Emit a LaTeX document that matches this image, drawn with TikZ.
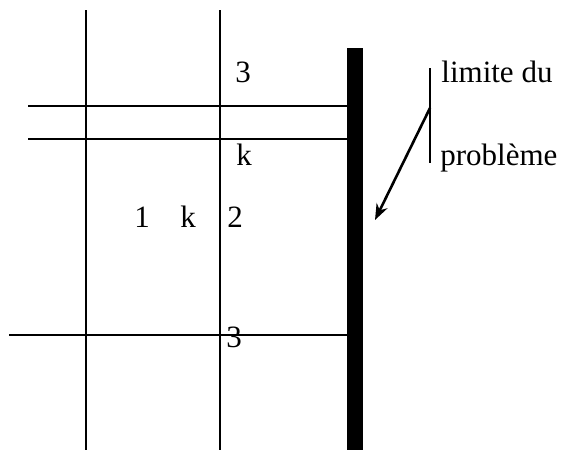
\documentclass[tikz,border=0pt]{standalone}
\usepackage{fontspec}
\setmainfont{Liberation Serif}
\usetikzlibrary{arrows.meta,positioning}

\begin{document}
\begin{tikzpicture}[
    x=0.5pt, y=-0.5pt,
    grid/.style={line width=1.4pt, black},
    lbl/.style={anchor=base west, inner sep=0pt, font=\fontsize{15.5}{18}\selectfont},
    arr/.style={-{Stealth[length=8pt,width=6pt]}, line width=1.3pt}
]
    \useasboundingbox (0,0) rectangle (561,450);
    % mesh lines
    \draw[grid] (86,10) -- (86,450);
    \draw[grid] (220,10) -- (220,450);
    \draw[grid] (28,106) -- (347,106);
    \draw[grid] (28,139) -- (347,139);
    \draw[grid] (9,335) -- (347,335);
    % boundary
    \fill[black] (347,48) rectangle (363,450);
    % indices
    \node[lbl] (topthree) at (235,82) {3};
    \node[lbl] (topk) at (236,165) {k};
    \node[lbl] (one) at (134,227) {1};
    \node[lbl] (midk) at (180,227) {k};
    \node[lbl] (two) at (227,227) {2};
    \node[lbl] (botthree) at (226,347) {3};
    % legend
    \coordinate (brtop) at (430,68);
    \coordinate (brbot) at (430,163);
    \coordinate (brmid) at (430,108);
    \coordinate (bartip) at (375,220);
    \draw[line width=1.3pt] (brtop) -- (brbot);
    \node[lbl] (limite) at (441,82) {limite du};
    \node[lbl] (probleme) at (440,165) {problème};
    \draw[arr] (brmid) -- (bartip);
\end{tikzpicture}
\end{document}
